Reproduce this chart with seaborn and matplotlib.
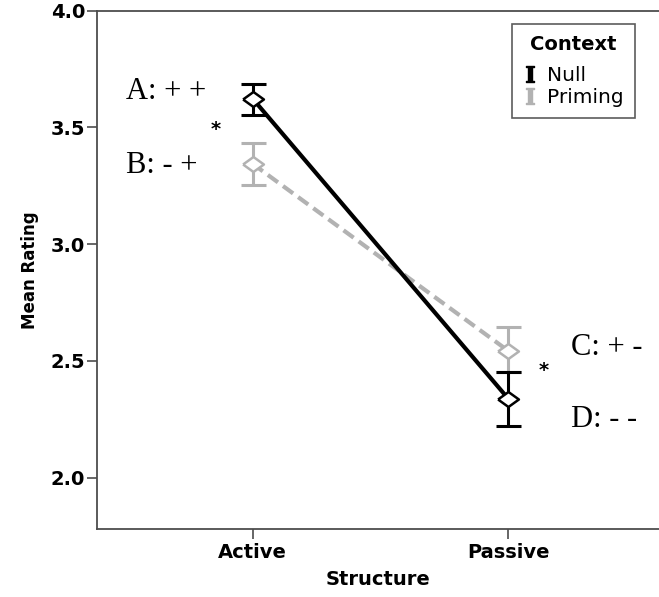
import numpy as np
import pandas as pd
import matplotlib
matplotlib.use("Agg")
import matplotlib.pyplot as plt
from matplotlib.lines import Line2D
import seaborn as sns

# values
structures = ["Active", "Passive"]
contexts = ["Null", "Priming"]
null_mean = [3.623, 2.338]
null_low = [3.554, 2.222]
null_high = [3.687, 2.453]
priming_mean = [3.344, 2.543]
priming_low = [3.255, 2.453]
priming_high = [3.434, 2.646]

colors = {"Null": "#000000", "Priming": "#b2b2b2"}

df = pd.DataFrame({
    "Structure": structures * 2,
    "Context": ["Null"] * 2 + ["Priming"] * 2,
    "Mean": null_mean + priming_mean,
})

sns.set_style("white")
plt.rcParams["font.family"] = ["DejaVu Sans"]
plt.rcParams["mathtext.fontset"] = "dejavuserif"
plt.rcParams["text.color"] = "black"
plt.rcParams["axes.labelcolor"] = "black"
plt.rcParams["xtick.color"] = "black"
plt.rcParams["ytick.color"] = "black"

fig = plt.figure(figsize=(6.59, 5.97), dpi=100)
ax = fig.add_axes([0.147, 0.114, 0.853, 0.868])

# wide, flat diamond
diamond = [(-1, 0), (0, 0.72), (1, 0), (0, -0.72), (-1, 0)]

sns.pointplot(data=df, x="Structure", y="Mean", hue="Context",
              order=structures, hue_order=contexts, palette=colors,
              errorbar=None, markers=[diamond, diamond],
              linestyles=["-", "--"], dodge=False, ax=ax, legend=False)

for line, ctx in zip(ax.lines, contexts):
    line.set_markerfacecolor("white")
    line.set_markeredgecolor(colors[ctx])
    line.set_markeredgewidth(1.8)
    line.set_markersize(15)
    line.set_linewidth(3)
    if ctx == "Priming":
        line.set_dashes((3, 1.5))
        line.set_zorder(4)
    else:
        line.set_zorder(6)

xpos = np.arange(len(structures))
for ctx, m, lo, hi, z in [("Priming", priming_mean, priming_low, priming_high, 3),
                          ("Null", null_mean, null_low, null_high, 5)]:
    m = np.array(m)
    ax.errorbar(xpos, m, yerr=[m - np.array(lo), np.array(hi) - m], fmt="none",
                ecolor=colors[ctx], elinewidth=2.2, capsize=9, capthick=2.2,
                zorder=z)

ax.set_xlim(-0.61, 1.59)
ax.set_ylim(1.78, 4.0)
ax.set_yticks([2.0, 2.5, 3.0, 3.5, 4.0])
ax.set_yticklabels(["2.0", "2.5", "3.0", "3.5", "4.0"])

for s in ["left", "bottom", "top"]:
    ax.spines[s].set_color("#4d4d4d")
    ax.spines[s].set_linewidth(1.3)
ax.spines["right"].set_visible(False)

ax.tick_params(axis="both", which="major", direction="out", length=7,
               width=1.2, color="#4d4d4d", labelcolor="black", labelsize=14,
               bottom=True, left=True)
ax.tick_params(axis="y", pad=1.5)
ax.tick_params(axis="x", pad=3)
for lab in ax.get_xticklabels() + ax.get_yticklabels():
    lab.set_fontweight("bold")

ax.set_xlabel("Structure", fontsize=14, fontweight="bold", labelpad=6)
ax.set_ylabel("Mean Rating", fontsize=12, fontweight="bold", labelpad=8)

# cell labels
serif = dict(family="Liberation Serif", fontsize=22, va="center", ha="left",
             color="black")
ax.text(-0.496, 3.653, "A: + +", **serif)
ax.text(-0.496, 3.336, "B: - +", **serif)
ax.text(1.246, 2.556, "C: + -", **serif)
ax.text(1.246, 2.248, "D: - -", **serif)
ax.text(-0.145, 3.49, "*", fontsize=14, fontweight="bold", ha="center", va="center")
ax.text(1.137, 2.46, "*", fontsize=14, fontweight="bold", ha="center", va="center")

handles = [Line2D([0], [0], marker=r"$\mathbf{I}$", linestyle="none",
                  color=colors[c], markersize=12) for c in contexts]
leg = ax.legend(handles, contexts, title="Context", loc="upper right",
                bbox_to_anchor=(0.957, 0.975), borderaxespad=0, fancybox=False,
                frameon=True, edgecolor="#333333", fontsize=14.5,
                title_fontproperties={"weight": "bold", "size": 14},
                handlelength=0.7, handletextpad=0.5, labelspacing=0.15,
                borderpad=0.55)
leg._legend_box.sep = 9
leg.get_frame().set_linewidth(1.2)

fig.savefig("out.png", dpi=100)
